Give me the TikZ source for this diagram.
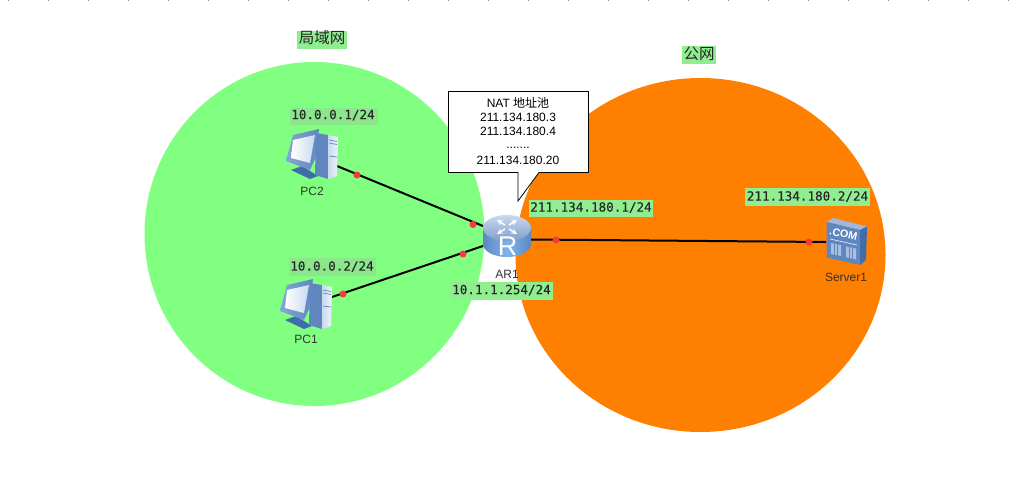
\documentclass[tikz,border=0pt]{standalone}
\usepackage{fontspec}
\setmainfont{Liberation Sans}
\newfontfamily\cjkfont{Noto Sans CJK SC}
\newfontfamily\labelmono[RawFeature={embolden=0.2}]{DejaVu Sans Mono}
\definecolor{lanfill}{HTML}{80FF80}
\definecolor{wanfill}{HTML}{FF8000}
\definecolor{lblbg}{HTML}{90EE90}
\definecolor{lblbgsoft}{HTML}{8CE68C}
\definecolor{inktext}{HTML}{333333}
\definecolor{dotred}{HTML}{F53B3B}
\definecolor{pcmid}{HTML}{5F86BF}
\definecolor{pclight}{HTML}{C9D9EF}
\definecolor{pcdark}{HTML}{3F6CAB}
\definecolor{pcframe}{HTML}{86A6D6}
\definecolor{routermid}{HTML}{7DB6EE}
\tikzset{
  zone/.style={fill=#1,draw=none},
  iplabel/.style={inner sep=0pt,font=\labelmono\fontsize{12.6}{15}\selectfont,text=black!85,anchor=center},
  titlelabel/.style={inner sep=0pt,font=\cjkfont\fontsize{15.5}{17}\selectfont,text=black!85,anchor=center},
  devlabel/.style={inner sep=0pt,font=\fontsize{12}{14}\selectfont,text=inktext,anchor=center},
  link/.style={draw=black,line width=2pt},
  dotmark/.style={circle,fill=dotred,draw=none,minimum size=7pt,inner sep=0pt},
  pooltext/.style={inner sep=0pt,font=\fontsize{12}{14}\selectfont,text=black,anchor=center}
}
\newcommand{\pcicon}[2]{%
  \begin{scope}[shift={(#1,#2)}]
    \fill[pcdark] (5,41) -- (16,37) -- (32,47) -- (24,50) -- cycle;
    \fill[pcmid] (30,4) -- (42,6) -- (42,50) -- (29,46) -- cycle;
    \shade[left color=pclight,right color=white!70!pclight] (42,6) -- (52,8) -- (51,47) -- (42,50) -- cycle;
    \draw[pcmid,line width=.7pt] (43,11) -- (51,12.5) (43,14) -- (51,15.5) (43,27) -- (51,28);
    \shade[left color=pcframe,right color=pcmid] (0,32) -- (7,6) -- (33,0) -- (29,30) -- (24,41) -- cycle;
    \shade[left color=white,right color=pclight] (5,29) -- (7,11) -- (29,6) -- (24,34) -- cycle;
  \end{scope}}
\begin{document}
\begin{tikzpicture}[x=1pt,y=-1pt]
\useasboundingbox (0,0) rectangle (1035,492);
\fill[white] (0,0) rectangle (1035,492);
% zones
\path[zone=lanfill] (314.5,234) ellipse [x radius=170,y radius=172];
\path[zone=wanfill] (700.5,255) ellipse [x radius=185,y radius=177];
% connector ends
\coordinate (pctwoport) at (337,166);
\coordinate (pconeport) at (332,297);
\coordinate (arone) at (483,226);
\coordinate (aronelow) at (483,246);
\coordinate (aroneright) at (531,239.5);
\coordinate (srvport) at (826,242);
\draw[link] (pctwoport) -- (arone);
\draw[link] (pconeport) -- (aronelow);
\draw[link] (aroneright) -- (srvport);
\node[dotmark] (d1) at (357,175) {};
\node[dotmark] (d2) at (473,224.5) {};
\node[dotmark] (d3) at (343,294) {};
\node[dotmark] (d4) at (463,254) {};
\node[dotmark] (d5) at (556,240) {};
\node[dotmark] (d6) at (809,242) {};
% PC icons
\pcicon{286}{129}
\pcicon{280}{279}
% router
\shade[left color=pcmid,right color=pcmid,middle color=routermid]
  (483,228) -- (483,244) .. controls (483,251.2) and (493.7,257) .. (507,257)
  .. controls (520.3,257) and (531,251.2) .. (531,244) -- (531,228) -- cycle;
\shade[top color=pclight,bottom color=pcmid!80!white] (507,228) ellipse [x radius=24,y radius=13];
\begin{scope}[white,line width=1.5pt,>=stealth]
  \draw[->] (505,225) -- (497,220);
  \draw[->] (509,225) -- (517,220);
  \draw[->] (505,229) -- (497,234);
  \draw[->] (509,229) -- (517,234);
\end{scope}
\node[inner sep=0pt,font=\fontsize{27}{27}\selectfont,text=white] (rglyph) at (507.5,246) {R};
% server
\fill[pclight!60!pcmid] (826.7,222) -- (833,218) -- (867,226.5) -- (860,230) -- cycle;
\fill[pcdark] (860,230) -- (867,226.5) -- (866,260) -- (860,265) -- cycle;
\fill[pcmid] (826.7,222) -- (860,230) -- (860,265) -- (826.7,257.5) -- cycle;
\node[inner sep=0pt,rotate=-13,font=\bfseries\fontsize{10.8}{12}\selectfont,text=white] (comglyph) at (843.5,234) {.COM};
\draw[white!85!pcmid,line width=.7pt] (830,239) -- (857,245);
\fill[pclight!70!pcmid] (831,243) -- (841,245.2) -- (841,256) -- (831,254) -- cycle;
\fill[pclight!70!pcmid] (846,246.4) -- (856,248.6) -- (856,259.5) -- (846,257.2) -- cycle;
\draw[pcmid,line width=.6pt] (834.3,243.7) -- (834.3,255) (837.6,244.4) -- (837.6,255.5) (849.3,247.1) -- (849.3,258) (852.6,247.8) -- (852.6,258.7);
% device labels
\node[devlabel] (pc2) at (312,191) {PC2};
\node[devlabel] (pc1) at (306,339) {PC1};
\node[devlabel] (ar1) at (507,274) {AR1};
\node[devlabel] (server1) at (846,277) {Server1};
% titles
\fill[lblbg] (297,31) rectangle (347,49);
\node[titlelabel] (lan) at (322,38) {局域网};
\fill[lblbg] (682,46) rectangle (716,64);
\node[titlelabel] (wan) at (699,54) {公网};
% ip labels
\fill[lblbgsoft] (290,108) rectangle (378,125);
\node[iplabel] (ipa) at (333,115) {10.0.0.1/24};
\fill[lblbgsoft] (289,258) rectangle (376,276);
\node[iplabel] (ipb) at (332,266.5) {10.0.0.2/24};
\fill[lblbg] (529,200) rectangle (653,217);
\node[iplabel] (ipc) at (591,207.5) {211.134.180.1/24};
\fill[lblbg] (450,282) rectangle (553,300);
\node[iplabel] (ipd) at (501.5,290) {10.1.1.254/24};
\fill[lblbg] (745,188) rectangle (870,206);
\node[iplabel] (ipe) at (807.5,196.5) {211.134.180.2/24};
% callout
\draw[black,fill=white,line width=.8pt,line join=miter]
  (448.5,91.5) -- (588.5,91.5) -- (588.5,172.5) -- (539,172.5) -- (518,201) -- (518,172.5) -- (448.5,172.5) -- cycle;
\node[pooltext] (t1) at (518,102.5) {NAT {\cjkfont 地址池}};
\node[pooltext] (t2) at (518,117) {211.134.180.3};
\node[pooltext] (t3) at (518,131) {211.134.180.4};
\node[pooltext] (t4) at (518,148) {.......};
\node[pooltext] (t5) at (518,160) {211.134.180.20};
% ruler ticks along the top edge
\foreach \k in {0,...,25} \draw[black!45,line width=.5pt] (8.5+40*\k,0) -- (8.5+40*\k,1.5);
\end{tikzpicture}
\end{document}
